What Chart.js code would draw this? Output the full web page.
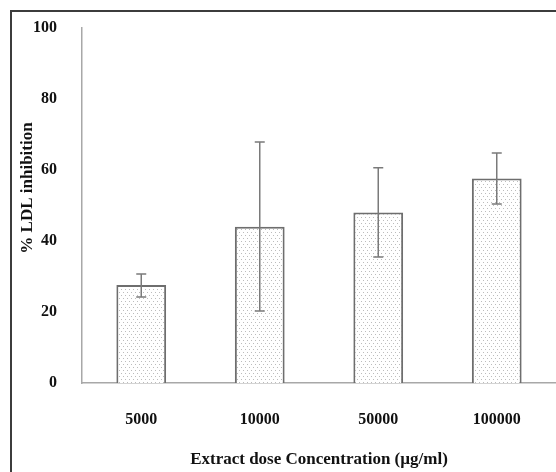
<!DOCTYPE html>
<html>
<head>
<meta charset="utf-8">
<script src="https://cdn.jsdelivr.net/npm/chart.js@4"></script>
<style>
  html, body { margin: 0; padding: 0; background: #fff; }
  #wrap { width: 556px; height: 472px; }
</style>
</head>
<body>
<div id="wrap"><canvas id="ldlChart"></canvas></div>
<script>
const doses = ["5000", "10000", "50000", "100000"];
const inhibition = [27.6, 44.0, 48.0, 57.6];
const errUpper = [30.7, 67.9, 60.6, 64.8];
const errLower = [24.2, 20.3, 35.5, 50.4];
const yTicks = [0, 20, 40, 60, 80, 100];

const FONT = "'Liberation Serif', 'Times New Roman', serif";

// dotted fill like the original
function dotPattern() {
  const c = document.createElement("canvas");
  c.width = 8;
  c.height = 6;
  const g = c.getContext("2d");
  g.fillStyle = "#fff";
  g.fillRect(0, 0, 8, 6);
  g.fillStyle = "#bcbcbc";
  g.fillRect(1, 1, 1, 1);
  g.fillRect(5, 1, 1, 1);
  g.fillRect(3, 4, 1, 1);
  g.fillRect(7, 4, 1, 1);
  return g.createPattern(c, "repeat");
}

const frame = {
  id: "frame",
  beforeDraw(chart) {
    const c = chart.ctx;
    c.save();
    c.fillStyle = "#fff";
    c.fillRect(0, 0, chart.width, chart.height);
    c.strokeStyle = "#3c3c3c";
    c.lineWidth = 2;
    c.strokeRect(11, 11, chart.width + 20, chart.height + 20);
    c.restore();
  },
};

const errorBars = {
  id: "errorBars",
  afterDatasetsDraw(chart) {
    const c = chart.ctx;
    const y = chart.scales.y;
    const meta = chart.getDatasetMeta(0);
    c.save();
    c.strokeStyle = "#7a7a7a";
    c.lineWidth = 1.5;
    meta.data.forEach((bar, i) => {
      const top = y.getPixelForValue(errUpper[i]);
      const bot = y.getPixelForValue(errLower[i]);
      c.beginPath();
      c.moveTo(bar.x, top);
      c.lineTo(bar.x, bot);
      c.moveTo(bar.x - 5, top);
      c.lineTo(bar.x + 5, top);
      c.moveTo(bar.x - 5, bot);
      c.lineTo(bar.x + 5, bot);
      c.stroke();
    });
    c.restore();
  },
};

const yTitle = {
  id: "yTitle",
  afterDraw(chart) {
    const c = chart.ctx;
    c.save();
    c.translate(28, 188);
    c.rotate(-Math.PI / 2);
    c.font = "bold 17px " + FONT;
    c.fillStyle = "#111";
    c.textAlign = "center";
    c.textBaseline = "middle";
    c.fillText("% LDL inhibition", 0, 0);
    c.restore();
  },
};

new Chart(document.getElementById("ldlChart"), {
  type: "bar",
  data: {
    labels: doses,
    datasets: [
      {
        data: inhibition,
        backgroundColor: dotPattern(),
        borderColor: "#6e6e6e",
        borderWidth: 2,
        categoryPercentage: 1,
        barPercentage: 0.42,
      },
    ],
  },
  options: {
    responsive: true,
    maintainAspectRatio: false,
    animation: false,
    layout: { padding: { top: 28, right: 0, bottom: 0, left: 0 } },
    plugins: {
      legend: { display: false },
      tooltip: { enabled: false },
    },
    scales: {
      x: {
        grid: { display: false, drawTicks: false },
        border: { color: "#a8a8a8", width: 1.5 },
        ticks: {
          padding: 27,
          color: "#111",
          font: { family: FONT, size: 16, weight: "bold" },
        },
        title: {
          display: true,
          text: "Extract dose Concentration (µg/ml)",
          color: "#111",
          font: { family: FONT, size: 17, weight: "bold" },
          padding: { top: 0, bottom: 2 },
        },
        afterFit(s) { s.height = 89; },
      },
      y: {
        min: 0,
        max: 100,
        grid: { display: false, drawTicks: false },
        border: { color: "#a8a8a8", width: 1.5 },
        afterBuildTicks(s) { s.ticks = yTicks.map(v => ({ value: v })); },
        ticks: {
          padding: 25,
          color: "#111",
          font: { family: FONT, size: 16, weight: "bold" },
        },
        afterFit(s) {
          s.width = 82;
          s.paddingTop = 0;
          s.paddingBottom = 0;
        },
      },
    },
  },
  plugins: [frame, errorBars, yTitle],
});
</script>
</body>
</html>
